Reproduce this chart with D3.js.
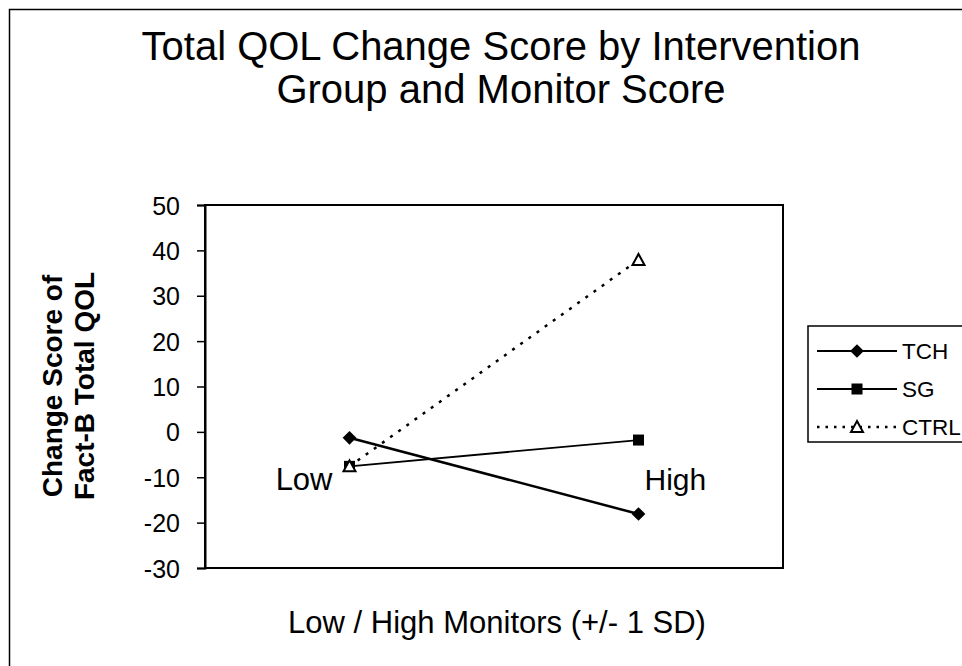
<!DOCTYPE html>
<html><head><meta charset="utf-8">
<script src="https://cdn.jsdelivr.net/npm/d3@7"></script>
<style>body{margin:0;background:#fff}svg{display:block;font-family:"Liberation Sans",Arial,sans-serif}</style>
</head><body><svg id="c" width="962" height="666"></svg>
<script>
const categories = ["Low", "High"];
const yTicks = [50, 40, 30, 20, 10, 0, -10, -20, -30];
const seriesNames = ["TCH", "SG", "CTRL"];
const tchValues = [-1.3, -18.1];
const sgValues = [-7.6, -1.8];
const ctrlValues = [-7.6, 37.9];
const title = ["Total QOL Change Score by Intervention", "Group and Monitor Score"];

const svg = d3.select("#c");
const W = 962, H = 666;
const m = {left: 205, right: 783, top: 205, bottom: 568};
const FF = '"Liberation Sans",Arial,sans-serif';

// outer frame (only left/top visible)
svg.append("rect").attr("x", 9.5).attr("y", 9.5).attr("width", W).attr("height", H)
  .attr("fill", "none").attr("stroke", "#000").attr("stroke-width", 1.5);

const x = d3.scalePoint().domain(categories).range([m.left, m.right]).padding(0.5);
const y = d3.scaleLinear().domain([-30, 50]).range([m.bottom, m.top]);

// plot frame
svg.append("rect").attr("x", m.left).attr("y", m.top).attr("width", m.right - m.left)
  .attr("height", m.bottom - m.top).attr("fill", "none").attr("stroke", "#000").attr("stroke-width", 2);

// y axis
const yAxis = d3.axisLeft(y).tickValues(yTicks).tickSize(8).tickPadding(17).tickFormat(d => String(d));
const ga = svg.append("g").attr("transform", `translate(${m.left},0)`).call(yAxis);
ga.select(".domain").attr("stroke-width", 2);
ga.selectAll(".tick line").attr("stroke-width", 1.5);
ga.selectAll(".tick text").attr("font-size", 25).attr("fill", "#000")
  .attr("font-family", FF).attr("dy", "0.36em");

// title
svg.append("text").attr("text-anchor", "middle")
  .attr("font-size", 40).attr("fill", "#000")
  .selectAll("tspan").data(title).join("tspan")
  .attr("x", 501).attr("y", (d, i) => 60 + i * 43).text(d => d);

// y axis title
const yt = svg.append("text").attr("transform", "translate(0,386) rotate(-90)")
  .attr("text-anchor", "middle").attr("font-size", 28).attr("font-weight", "bold").attr("fill", "#000");
yt.append("tspan").attr("x", 0).attr("y", 62).text("Change Score of");
yt.append("tspan").attr("x", 0).attr("y", 94).text("Fact-B Total QOL");

// x axis title
svg.append("text").attr("x", 497).attr("y", 633).attr("text-anchor", "middle")
  .attr("font-size", 31).attr("fill", "#000").text("Low / High Monitors (+/- 1 SD)");

// category labels inside plot
svg.append("text").attr("x", x("Low") - 17).attr("y", 490).attr("text-anchor", "end")
  .attr("font-size", 31).attr("fill", "#000").text("Low");
svg.append("text").attr("x", x("High") + 6).attr("y", 490).attr("text-anchor", "start")
  .attr("font-size", 30).attr("fill", "#000").text("High");

const series = [
  {name: seriesNames[0], values: tchValues, width: 2.5, dash: null, marker: "diamond"},
  {name: seriesNames[1], values: sgValues, width: 1.8, dash: null, marker: "square"},
  {name: seriesNames[2], values: ctrlValues, width: 2.5, dash: "3,7", marker: "triangle"}
];

const line = d3.line().x((d, i) => x(categories[i])).y(d => y(d));

function drawMarker(g, type, cx, cy) {
  if (type === "diamond") {
    g.append("path").attr("d", d3.symbol(d3.symbolDiamond2, 120)()).attr("transform", `translate(${cx},${cy})`)
      .attr("fill", "#000");
  } else if (type === "square") {
    g.append("rect").attr("x", cx - 5.5).attr("y", cy - 5.5).attr("width", 11).attr("height", 11).attr("fill", "#000");
  } else {
    g.append("path").attr("d", `M${cx},${cy - 6}L${cx + 6},${cy + 5}L${cx - 6},${cy + 5}Z`)
      .attr("fill", "#fff").attr("stroke", "#000").attr("stroke-width", 2);
  }
}

const gl = svg.append("g");
series.forEach(s => {
  gl.append("path").datum(s.values).attr("d", line).attr("fill", "none").attr("stroke", "#000")
    .attr("stroke-width", s.width).attr("stroke-dasharray", s.dash).attr("stroke-linecap", "butt");
});
series.forEach(s => {
  s.values.forEach((v, i) => drawMarker(gl, s.marker, x(categories[i]), y(v)));
});

// legend
const lg = svg.append("g");
lg.append("rect").attr("x", 808).attr("y", 326).attr("width", 200).attr("height", 116)
  .attr("fill", "#fff").attr("stroke", "#000").attr("stroke-width", 1.5);
series.forEach((s, i) => {
  const ly = 351 + i * 38;
  lg.append("line").attr("x1", 817).attr("x2", 897).attr("y1", ly).attr("y2", ly)
    .attr("stroke", "#000").attr("stroke-width", s.dash ? 2.5 : 2).attr("stroke-dasharray", s.dash ? "2.5,6" : null);
  drawMarker(lg, s.marker, 857, ly);
  lg.append("text").attr("x", 902).attr("y", ly + 8).attr("font-size", 22.5).attr("fill", "#000").text(s.name);
});
</script></body></html>
